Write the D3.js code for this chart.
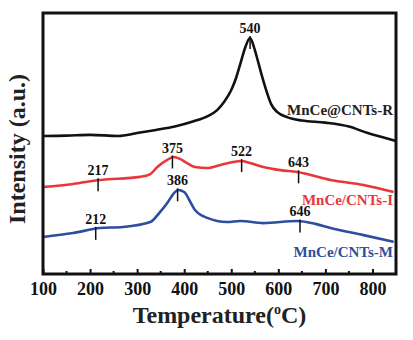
<!DOCTYPE html>
<html>
<head>
<meta charset="utf-8">
<script src="https://cdnjs.cloudflare.com/ajax/libs/d3/7.8.5/d3.min.js"></script>
<style>
  body { margin: 0; background: #fff; }
  svg text { font-family: "Liberation Serif", "Times New Roman", serif; font-weight: bold; }
</style>
</head>
<body>
<svg id="chart" width="413" height="340"></svg>
<script>
// temperatures (°C) and intensities (a.u.)
const tempR = [100, 150, 200, 260, 300, 340, 380, 420, 450, 470, 485, 500, 510, 520, 530, 540, 548, 556, 565, 575, 585, 598, 620, 650, 700, 750, 790, 820, 850];
const intR  = [52.9, 53.0, 53.3, 52.9, 54.0, 55.2, 56.5, 58.5, 60.5, 62.8, 66, 70.5, 75, 81, 87, 90.4, 87, 82, 76, 70, 65, 62, 60, 58.8, 58, 56.5, 54, 52.5, 51];

const tempI = [100, 164, 221, 306, 328, 343, 364, 377, 391, 406, 423, 449, 477, 504, 521, 540, 568, 604, 640, 711, 781, 845];
const intI  = [33.3, 34.5, 36.0, 37.2, 38.3, 41.0, 43.7, 44.8, 44.1, 42.5, 41.0, 40.6, 41.8, 42.9, 43.3, 42.5, 41.0, 39.8, 39.1, 36.0, 34.1, 31.4];

const tempM = [100, 164, 221, 270, 328, 349, 364, 377, 387, 400, 413, 423, 449, 491, 519, 568, 640, 679, 711, 781, 845];
const intM  = [14.2, 15.7, 17.6, 18.0, 19.9, 23.8, 27.2, 30.7, 32.2, 31.4, 27.6, 24.5, 21.5, 19.9, 20.3, 19.5, 20.3, 19.2, 17.6, 14.9, 12.3];

const seriesNames = ["MnCe@CNTs-R", "MnCe/CNTs-I", "MnCe/CNTs-M"];
const seriesColors = ["#111111", "#e8373b", "#2d4e9e"];
const peaksR = [540];
const peaksI = [217, 375, 522, 643];
const peaksM = [212, 386, 646];
const xTicks = [100, 200, 300, 400, 500, 600, 700, 800];

const svg = d3.select("#chart");
const margin = {top: 13, right: 17, bottom: 66, left: 43};
const width = 413 - margin.left - margin.right;
const height = 340 - margin.top - margin.bottom;

const g = svg.append("g").attr("transform", "translate(" + margin.left + "," + margin.top + ")");

const x = d3.scaleLinear().domain([100, 850]).range([0, width]);
const y = d3.scaleLinear().domain([0, 100]).range([height, 0]);

const series = [
  {name: seriesNames[0], color: seriesColors[0], t: tempR, v: intR, peaks: peaksR, labelY: 61},
  {name: seriesNames[1], color: seriesColors[1], t: tempI, v: intI, peaks: peaksI, labelY: 26.4},
  {name: seriesNames[2], color: seriesColors[2], t: tempM, v: intM, peaks: peaksM, labelY: 6.5}
];

const line = d3.line()
  .x(d => x(d[0]))
  .y(d => y(d[1]))
  .curve(d3.curveMonotoneX);

// value on a curve at temperature t (linear between read points)
function valueAt(s, t) {
  const i = d3.bisectLeft(s.t, t);
  if (i <= 0) return s.v[0];
  if (i >= s.t.length) return s.v[s.v.length - 1];
  const f = (t - s.t[i - 1]) / (s.t[i] - s.t[i - 1]);
  return s.v[i - 1] + f * (s.v[i] - s.v[i - 1]);
}

series.forEach(function (s) {
  g.append("path")
    .datum(d3.zip(s.t, s.v))
    .attr("fill", "none")
    .attr("stroke", s.color)
    .attr("stroke-width", 2.6)
    .attr("stroke-linejoin", "round")
    .attr("d", line);

  s.peaks.forEach(function (p) {
    const py = y(valueAt(s, p));
    g.append("line")
      .attr("x1", x(p)).attr("x2", x(p))
      .attr("y1", py - 2).attr("y2", py + 11)
      .attr("stroke", "#111").attr("stroke-width", 1.5);
    g.append("text")
      .attr("x", x(p)).attr("y", py - 5)
      .attr("text-anchor", "middle")
      .attr("font-size", 14)
      .attr("fill", "#111")
      .text(p);
  });

  g.append("text")
    .attr("x", width - 3)
    .attr("y", y(s.labelY))
    .attr("text-anchor", "end")
    .attr("font-size", 15)
    .attr("fill", s.color === "#111111" ? "#222" : s.color)
    .text(s.name);
});

// x axis: ticks point inward
const xAxis = d3.axisBottom(x)
  .tickValues(xTicks)
  .tickSize(-5)
  .tickPadding(8)
  .tickFormat(d3.format("d"));

const axG = g.append("g")
  .attr("transform", "translate(0," + height + ")")
  .call(xAxis);
axG.select(".domain").remove();
axG.selectAll(".tick line").attr("stroke", "#111").attr("stroke-width", 2);
axG.selectAll(".tick text")
  .attr("font-size", 18)
  .attr("fill", "#111")
  .attr("font-family", "Liberation Serif")
  .attr("font-weight", "bold");

g.append("g")
  .attr("transform", "translate(0," + height + ")")
  .selectAll("line")
  .data(d3.range(150, 850, 100))
  .enter().append("line")
  .attr("x1", d => x(d)).attr("x2", d => x(d))
  .attr("y1", 0).attr("y2", -3)
  .attr("stroke", "#111").attr("stroke-width", 2);

// frame
g.append("rect")
  .attr("width", width).attr("height", height)
  .attr("fill", "none")
  .attr("stroke", "#111")
  .attr("stroke-width", 3);

// axis titles
const xt = svg.append("text")
  .attr("x", margin.left + width / 2)
  .attr("y", 323)
  .attr("text-anchor", "middle")
  .attr("font-size", 24)
  .attr("fill", "#222");
xt.append("tspan").text("Temperature(");
xt.append("tspan").attr("font-size", 14).attr("dy", -9).text("o");
xt.append("tspan").attr("dy", 9).text("C)");

svg.append("text")
  .attr("transform", "translate(25,149) rotate(-90)")
  .attr("text-anchor", "middle")
  .attr("font-size", 24)
  .attr("fill", "#222")
  .text("Intensity (a.u.)");
</script>
</body>
</html>
